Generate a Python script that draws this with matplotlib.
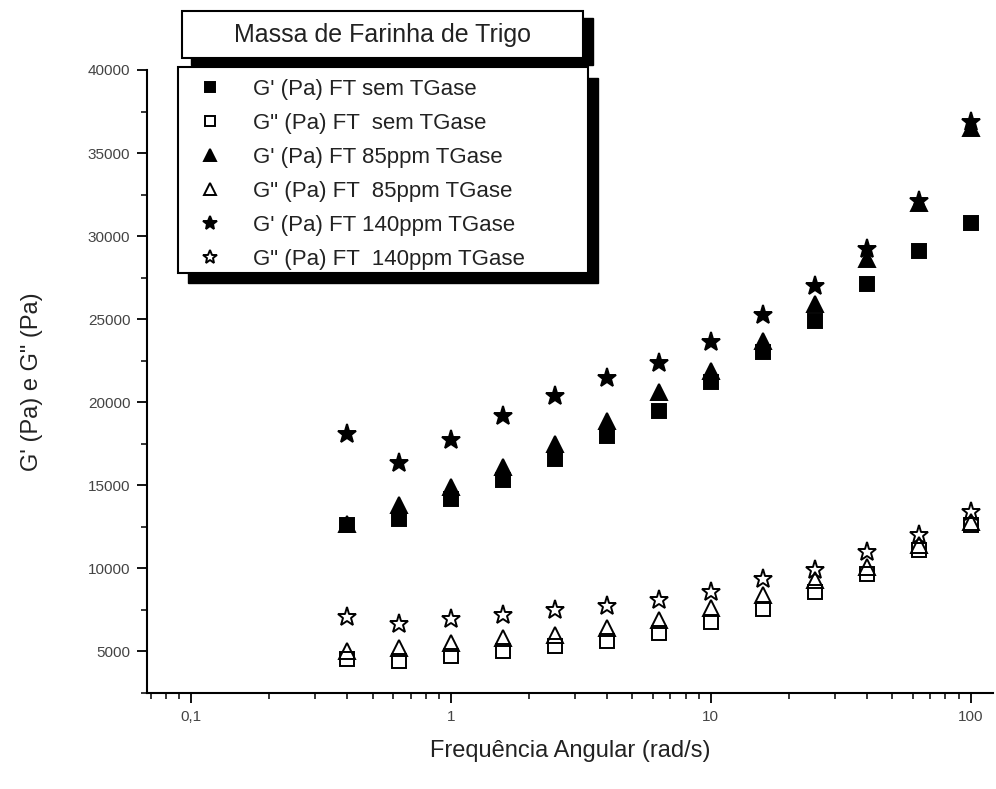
import matplotlib
matplotlib.use('Agg')
import matplotlib.pyplot as plt
from matplotlib.patches import Rectangle
from matplotlib.ticker import FixedLocator, MultipleLocator, LogLocator, NullFormatter

plt.rcParams['font.family'] = ['Liberation Sans', 'DejaVu Sans']

# --- data ---
freq = [0.398, 0.631, 1.0, 1.585, 2.512, 3.981, 6.31, 10.0, 15.85, 25.12, 39.81, 63.1, 100.0]

g1_sem   = [12600, 13000, 14150, 15350, 16600, 17950, 19500, 21200, 23050, 24900, 27100, 29100, 30800]
g2_sem   = [4550, 4400, 4750, 5000, 5350, 5650, 6100, 6750, 7550, 8600, 9650, 11100, 12600]
g1_85    = [12700, 13800, 14900, 16100, 17500, 18900, 20600, 21900, 23700, 25900, 28600, 32000, 36500]
g2_85    = [5000, 5200, 5500, 5800, 6000, 6400, 6900, 7600, 8400, 9300, 10100, 11400, 12800]
g1_140   = [18100, 16350, 17750, 19150, 20350, 21450, 22350, 23650, 25250, 27000, 29250, 32100, 36900]
g2_140   = [7100, 6650, 6950, 7200, 7500, 7750, 8100, 8550, 9350, 9900, 11000, 12000, 13400]

labels = ["G' (Pa) FT sem TGase", 'G" (Pa) FT  sem TGase',
          "G' (Pa) FT 85ppm TGase", 'G" (Pa) FT  85ppm TGase',
          "G' (Pa) FT 140ppm TGase", 'G" (Pa) FT  140ppm TGase']

TXT = '#222222'
W, H = 996, 789

fig = plt.figure(figsize=(W / 100, H / 100), dpi=100, facecolor='white')
ax = fig.add_axes([147 / W, 96 / H, 846 / W, 623 / H])

series = [
    (g1_sem, 's', 10, 'black'),
    (g2_sem, 's', 10, 'none'),
    (g1_85, '^', 11, 'black'),
    (g2_85, '^', 11, 'none'),
    (g1_140, '*', 14, 'black'),
    (g2_140, '*', 14, 'none'),
]
for (vals, mk, ms, fc), lab in zip(series, labels):
    ax.plot(freq, vals, ls='none', marker=mk, ms=ms, mfc=fc, mec='black',
            mew=1.4, label=lab)

ax.set_xscale('log')
ax.set_xlim(0.0677, 122)
ax.set_ylim(2500, 40000)

ax.spines['top'].set_visible(False)
ax.spines['right'].set_visible(False)
for s in ('left', 'bottom'):
    ax.spines[s].set_linewidth(1.5)

ax.yaxis.set_major_locator(FixedLocator([5000, 10000, 15000, 20000, 25000, 30000, 35000, 40000]))
ax.yaxis.set_minor_locator(MultipleLocator(2500))
ax.xaxis.set_major_locator(FixedLocator([0.1, 1, 10, 100]))
ax.set_xticklabels(['0,1', '1', '10', '100'])
ax.xaxis.set_minor_locator(LogLocator(base=10, subs=range(2, 10)))
ax.xaxis.set_minor_formatter(NullFormatter())

ax.tick_params(axis='both', which='major', direction='out', length=7, width=1.3,
               labelsize=11, labelcolor='#444444', pad=5)
ax.tick_params(axis='both', which='minor', direction='out', length=4, width=1.1)

ax.set_xlabel('Frequência Angular (rad/s)', fontsize=17, color=TXT, labelpad=12)
ax.set_ylabel('G\' (Pa) e G" (Pa)', fontsize=17, color=TXT, va='center')
ax.yaxis.set_label_coords(-0.136, 0.5)

# legend box + shadow drawn by hand so its size follows the reference
fig.patches.append(Rectangle((188 / W, 1 - 283 / H), 410 / W, 205 / H,
                             transform=fig.transFigure, fc='black', ec='black', zorder=5))
fig.patches.append(Rectangle((178 / W, 1 - 273 / H), 410 / W, 206 / H,
                             transform=fig.transFigure, fc='white', ec='black', lw=1.5, zorder=6))

handles, labs = ax.get_legend_handles_labels()
fs = 16
leg = fig.legend(handles, labs, loc='upper left', bbox_to_anchor=(178 / W, 1 - 67 / H),
                 fontsize=fs, frameon=False,
                 borderaxespad=0, borderpad=0.55, labelspacing=0.58,
                 handlelength=1.78, handletextpad=1.05, markerscale=0.75)
leg.set_zorder(8)
for t in leg.get_texts():
    t.set_color(TXT)

# title box with a black drop shadow
fig.patches.append(Rectangle((191 / W, 1 - 65 / H), 402 / W, 47 / H,
                             transform=fig.transFigure, fc='black', ec='black', zorder=5))
fig.patches.append(Rectangle((182 / W, 1 - 58 / H), 401 / W, 47 / H,
                             transform=fig.transFigure, fc='white', ec='black', lw=1.5, zorder=6))
fig.text(382 / W, 1 - 35 / H, 'Massa de Farinha de Trigo', ha='center', va='center',
         fontsize=18, color=TXT, zorder=7)

fig.savefig('out.png', dpi=100, facecolor='white')
